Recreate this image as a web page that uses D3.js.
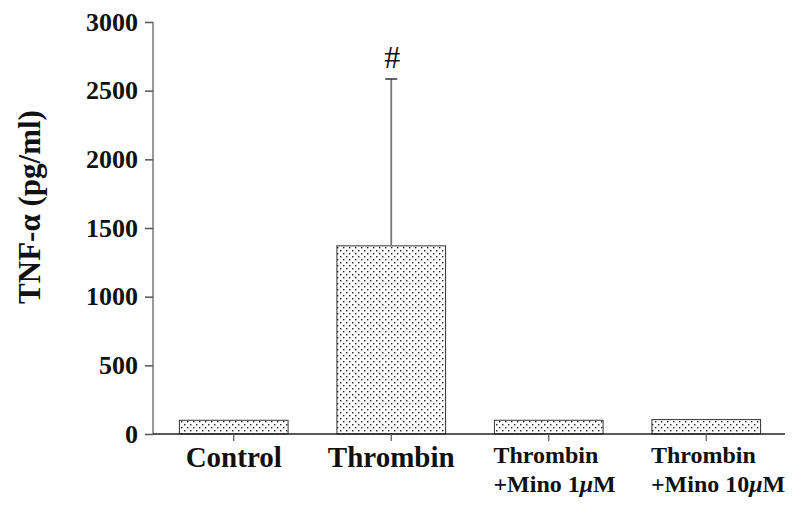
<!DOCTYPE html>
<html><head><meta charset="utf-8">
<script src="https://cdn.jsdelivr.net/npm/d3@7"></script>
<style>body{margin:0;background:#fff}svg{display:block}text{font-family:"Liberation Serif","Times New Roman",serif;font-weight:bold;fill:#111}</style>
</head><body>
<script>
const categories = ["Control", "Thrombin", "Thrombin +Mino 1μM", "Thrombin +Mino 10μM"];
const labelLines = [["Control"], ["Thrombin"], ["Thrombin", "+Mino 1", "μ", "M"], ["Thrombin", "+Mino 10", "μ", "M"]];
const values = [100, 1370, 100, 105];
const errors = [0, 1215, 0, 0];
const yTicks = [0, 500, 1000, 1500, 2000, 2500, 3000];
const marks = ["", "#", "", ""];

const W = 800, H = 508;
const svg = d3.select("body").append("svg").attr("width", W).attr("height", H);
const defs = svg.append("defs");
const pat = defs.append("pattern").attr("id", "dots").attr("patternUnits", "userSpaceOnUse")
  .attr("width", 6).attr("height", 6);
pat.append("rect").attr("width", 6).attr("height", 6).attr("fill", "#fff");
pat.append("rect").attr("x", 1).attr("y", 1).attr("width", 1.4).attr("height", 1.4).attr("fill", "#222");
pat.append("rect").attr("x", 4).attr("y", 4).attr("width", 1.4).attr("height", 1.4).attr("fill", "#222");

const x = d3.scaleBand().domain(categories).range([155, 785]).padding(0);
const y = d3.scaleLinear().domain([0, 3000]).range([434, 22]);
const bw = x.bandwidth() * 0.69;

// bars
svg.selectAll("rect.bar").data(values).join("rect").attr("class", "bar")
  .attr("x", (d, i) => x(categories[i]) + x.bandwidth() / 2 - bw / 2)
  .attr("y", d => y(d))
  .attr("width", bw)
  .attr("height", d => y(0) - y(d))
  .attr("fill", "url(#dots)").attr("stroke", "#333").attr("stroke-width", 1);

// error bars
values.forEach((v, i) => {
  if (!errors[i]) return;
  const cx = x(categories[i]) + x.bandwidth() / 2;
  svg.append("line").attr("x1", cx).attr("x2", cx).attr("y1", y(v)).attr("y2", y(v + errors[i]))
    .attr("stroke", "#777").attr("stroke-width", 1.8);
  svg.append("line").attr("x1", cx - 6).attr("x2", cx + 6).attr("y1", y(v + errors[i])).attr("y2", y(v + errors[i]))
    .attr("stroke", "#333").attr("stroke-width", 1.5);
  svg.append("text").attr("x", cx + 1).attr("y", y(v + errors[i]) - 11).attr("text-anchor", "middle")
    .attr("font-size", 32).style("font-weight", "normal").text(marks[i]);
});

// y axis
const yAxis = d3.axisLeft(y).tickValues(yTicks).tickFormat(d3.format("d")).tickSize(8).tickPadding(7);
const gy = svg.append("g").attr("transform", "translate(153,0)").call(yAxis);
gy.select(".domain").attr("stroke", "#777").attr("stroke-width", 1.5).attr("d", "M0,22V434");
gy.selectAll(".tick line").attr("stroke", "#555").attr("stroke-width", 1.5);
gy.selectAll(".tick text").attr("font-size", 26).attr("font-family", "Liberation Serif").attr("font-weight", "bold").attr("fill", "#111");

// x axis
svg.append("line").attr("x1", 153).attr("x2", 785).attr("y1", 434).attr("y2", 434).attr("stroke", "#222").attr("stroke-width", 1.5);
const gx = svg.append("g").attr("transform", "translate(0,434)");
categories.forEach((c, i) => {
  const cx = x(c) + x.bandwidth() / 2;
  gx.append("line").attr("x1", cx).attr("x2", cx).attr("y1", 0).attr("y2", 7).attr("stroke", "#555").attr("stroke-width", 1.2);
  const L = labelLines[i];
  if (L.length === 1) {
    gx.append("text").attr("x", cx).attr("y", 33).attr("text-anchor", "middle").attr("font-size", 29).text(L[0]);
  } else {
    const left = cx - bw / 2 - 1;
    gx.append("text").attr("x", left).attr("y", 29).attr("font-size", 24).text(L[0]);
    const t = gx.append("text").attr("x", left).attr("y", 58).attr("font-size", 24);
    t.append("tspan").text(L[1]);
    t.append("tspan").style("font-style", "italic").text(L[2]);
    t.append("tspan").text(L[3]);
  }
});

// y title
svg.append("text").attr("transform", "translate(40,207) rotate(-90)").attr("text-anchor", "middle")
  .attr("font-size", 31).text("TNF-α (pg/ml)");
</script>
</body></html>
